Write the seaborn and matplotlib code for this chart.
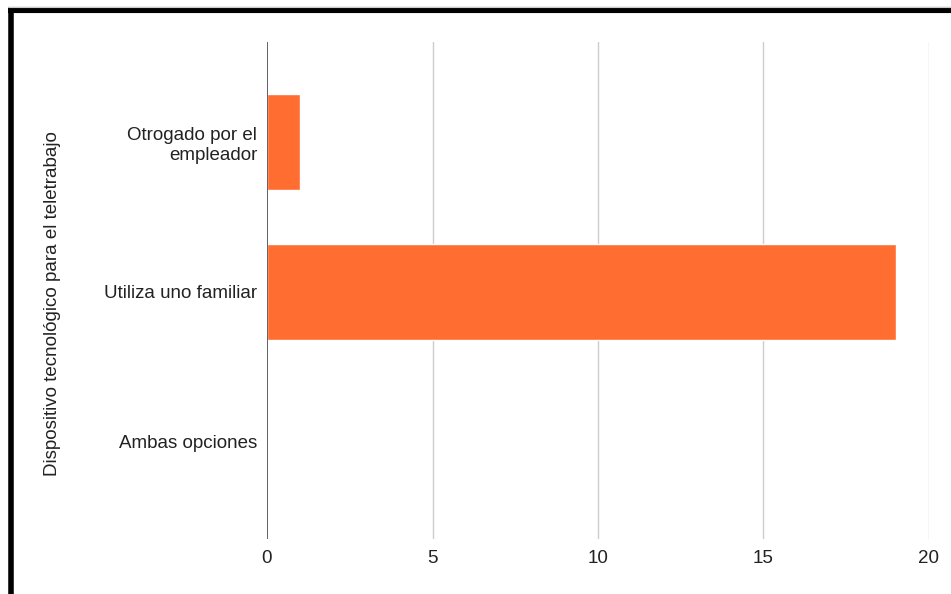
import matplotlib
matplotlib.use("Agg")
import matplotlib.pyplot as plt
from matplotlib.lines import Line2D
import pandas as pd
import seaborn as sns

sns.set_theme(style="white")
plt.rcParams["font.family"] = ["Liberation Sans", "DejaVu Sans"]

categorias = ["Otrogado por el\nempleador", "Utiliza uno familiar", "Ambas opciones"]
valores = [1, 19, 0]
ticks_x = [0, 5, 10, 15, 20]
etiqueta_y = "Dispositivo tecnológico para el teletrabajo"

COLOR_BARRA = "#FF6D31"
COLOR_TEXTO = "#222222"

df = pd.DataFrame({"Categoria": categorias, "Valor": valores})

fig = plt.figure(figsize=(9.51, 5.94), dpi=100)
ax = fig.add_axes([267 / 951, 1 - 539 / 594, (929 - 267) / 951, (539 - 42) / 594])

sns.barplot(data=df, y="Categoria", x="Valor", color=COLOR_BARRA, saturation=1,
            width=0.64, orient="h", ax=ax, zorder=3)

ax.set_xlim(0, 20)
ax.set_ylim(2.647, -0.667)
ax.set_xticks(ticks_x)
ax.set_xticklabels([str(t) for t in ticks_x])
for t in ticks_x[1:]:
    ax.axvline(t, color="#cccccc", lw=1, zorder=1)
ax.axvline(0, color="#555555", lw=1.3, zorder=4)

for s in ax.spines.values():
    s.set_visible(False)
ax.tick_params(axis="both", length=0, labelsize=13.5, labelcolor=COLOR_TEXTO)
ax.tick_params(axis="x", pad=8)
ax.tick_params(axis="y", pad=7)
ax.set_xlabel("")
ax.set_ylabel(etiqueta_y, fontsize=13.5, color=COLOR_TEXTO)
ax.yaxis.set_label_coords(-(267 - 61) / 662, 0.5 - 13 / 497)

# marco negro de la captura (arriba e izquierda)
fig.add_artist(Line2D([8 / 951, 1], [1 - 10 / 594] * 2, transform=fig.transFigure,
                      color="black", lw=4.4, solid_capstyle="butt"))
fig.add_artist(Line2D([10.5 / 951] * 2, [0, 1 - 7 / 594], transform=fig.transFigure,
                      color="black", lw=4.0, solid_capstyle="butt"))
fig.add_artist(Line2D([8 / 951, 1], [1 - 6.5 / 594] * 2, transform=fig.transFigure,
                      color="#cccccc", lw=0.8))

fig.savefig("out.png", dpi=100)
plt.close(fig)
